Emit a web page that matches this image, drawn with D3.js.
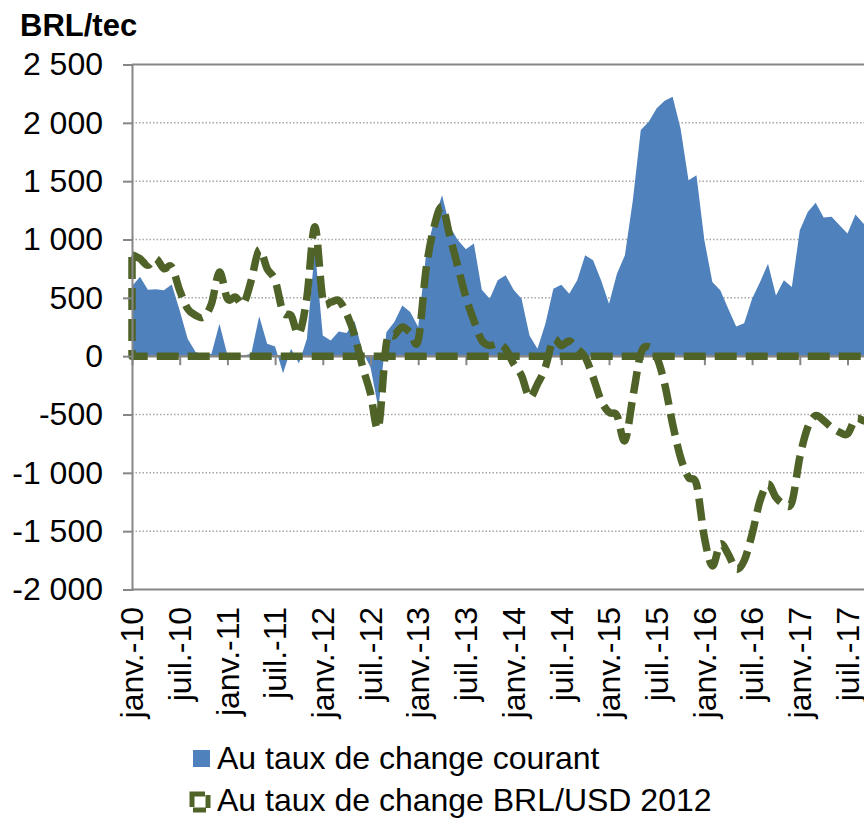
<!DOCTYPE html>
<html>
<head>
<meta charset="utf-8">
<script src="https://cdn.jsdelivr.net/npm/d3@7"></script>
<style>
  body { margin: 0; background: #fff; }
  text { font-family: "Liberation Sans", Arial, sans-serif; fill: #000; }
</style>
</head>
<body>
<div id="chart"></div>
<script>
// Chart size
const width = 864,
  height = 826,
  margin = { top: 64.5, bottom: 236, left: 132, right: 0 };

// Data: monthly values from janv.-10 (index 0) onward
const courant = [
  600, 680, 570, 573, 564, 615, 392, 150, 35, 10,
  20, 278, 10, 25, 5, 20, 343, 106, 83, -146,
  63, -63, 150, 920, 178, 135, 212, 198, 300, 40,
  -94, -450, 206, 292, 435, 378, 249, 879, 1165, 1380,
  1108, 993, 916, 965, 570, 492, 650, 693, 570, 492,
  178, 63, 278, 578, 613, 535, 650, 865, 822, 650,
  450, 707, 865, 1337, 1938, 2009, 2124, 2190, 2224, 1952,
  1508, 1551, 993, 635, 564, 407, 255, 283, 492, 635,
  793, 521, 650, 592, 1079, 1236, 1314, 1188, 1194, 1122,
  1051, 1214, 1137, 1100
];
const brlUsd2012 = [
  870, 836, 779, 836, 750, 765, 564, 407, 350, 335,
  450, 721, 492, 506, 450, 650, 913, 750, 650, 378,
  350, 192, 506, 1110, 492, 464, 478, 364, 178, -90,
  -320, -610, 110, 178, 249, 200, 135, 750, 1108, 1280,
  1022, 765, 506, 306, 135, 92, 106, 63, -65, -166,
  -352, -240, -94, 140, 90, 130, 63, -8, -180, -380,
  -481, -509, -724, -352, 21, 80, -8, -237, -580, -867,
  -1039, -1096, -1554, -1797, -1611, -1697, -1826, -1754, -1525, -1239,
  -1096, -1210, -1267, -1253, -867, -610, -509, -552, -610, -652,
  -667, -538, -552, -580
];
const xTickLabels = [
  "janv.-10", "juil.-10", "janv.-11", "juil.-11", "janv.-12", "juil.-12",
  "janv.-13", "juil.-13", "janv.-14", "juil.-14", "janv.-15", "juil.-15",
  "janv.-16", "juil.-16", "janv.-17", "juil.-17"
];
const yTicks = [-2000, -1500, -1000, -500, 0, 500, 1000, 1500, 2000, 2500];
const seriesNames = ["Au taux de change courant", "Au taux de change BRL/USD 2012"];
const unitLabel = "BRL/tec";

const blue = "#4F81BD",
  olive = "#4F6228",
  axisGrey = "#868686";

const fr = d3.formatLocale({ decimal: ",", thousands: " ", grouping: [3], currency: ["", ""], minus: "-" });
const fmt = fr.format(",d");

// Scales (one step per month)
const xScale = d3.scaleLinear()
  .domain([0, 90])
  .range([margin.left, 847.5]);

const yScale = d3.scaleLinear()
  .domain([-2000, 2500])
  .range([height - margin.bottom - 0.5, margin.top]);

const svg = d3.select("#chart")
  .append("svg")
  .attr("width", width)
  .attr("height", height);

// gridlines
svg.append("g")
  .selectAll("line")
  .data(yTicks.filter(d => d !== 0))
  .join("line")
  .attr("x1", margin.left)
  .attr("x2", width)
  .attr("y1", d => yScale(d))
  .attr("y2", d => yScale(d))
  .attr("stroke", d => (d === 2500 || d === -2000) ? axisGrey : "#A6A6A6")
  .attr("stroke-width", d => (d === 2500 || d === -2000) ? 2 : 1.5)
  .attr("stroke-dasharray", d => (d === 2500 || d === -2000) ? null : "1.5 2");

// blue area
const areaCourant = d3.area()
  .x((d, i) => xScale(i))
  .y0(yScale(0))
  .y1(d => yScale(d));

svg.append("path")
  .datum(courant)
  .attr("fill", blue)
  .attr("d", areaCourant);

// x axis at zero
const xAxis = d3.axisBottom(xScale)
  .tickValues(xTickLabels.map((d, i) => i * 6))
  .tickSize(9)
  .tickFormat("");

const xAxisGroup = svg.append("g")
  .attr("transform", `translate(0, ${yScale(0)})`)
  .call(xAxis);
xAxisGroup.select(".domain").remove();
xAxisGroup.selectAll("line").attr("stroke", axisGrey).attr("stroke-width", 2);
xAxisGroup.append("line")
  .attr("x1", margin.left).attr("x2", width)
  .attr("stroke", axisGrey).attr("stroke-width", 2.5);

// dashed area outline (no fill)
const area2012 = d3.area()
  .x((d, i) => xScale(i))
  .y0(yScale(0))
  .y1(d => yScale(d))
  .curve(d3.curveCardinal.tension(0));

svg.append("path")
  .datum(brlUsd2012)
  .attr("fill", "none")
  .attr("stroke", olive)
  .attr("stroke-width", 7.5)
  .attr("stroke-dasharray", "22 9")
  .attr("stroke-linejoin", "round")
  .attr("d", area2012);

// y axis
const yAxis = d3.axisLeft(yScale)
  .tickValues(yTicks)
  .tickSize(9)
  .tickPadding(20)
  .tickFormat(fmt);

const yAxisGroup = svg.append("g")
  .attr("transform", `translate(${margin.left}, 0)`)
  .call(yAxis);
yAxisGroup.select(".domain").attr("stroke", axisGrey).attr("stroke-width", 2);
yAxisGroup.selectAll("line").attr("stroke", axisGrey).attr("stroke-width", 2);
yAxisGroup.selectAll("text")
  .attr("font-size", 32)
  .attr("font-family", "Liberation Sans, Arial, sans-serif");

// x labels at the bottom, rotated
svg.append("g")
  .selectAll("text")
  .data(xTickLabels)
  .join("text")
  .attr("transform", (d, i) => `translate(${xScale(i * 6)}, 607) rotate(-90)`)
  .attr("dy", "0.35em")
  .attr("text-anchor", "end")
  .attr("font-size", 32)
  .text(d => d);

// unit label
svg.append("text")
  .attr("x", 20)
  .attr("y", 36)
  .attr("font-size", 31)
  .attr("font-weight", "bold")
  .text(unitLabel);

// legend
const legend = svg.append("g");
legend.append("rect")
  .attr("x", 193).attr("y", 750)
  .attr("width", 17).attr("height", 17)
  .attr("fill", blue);
legend.append("rect")
  .attr("x", 192).attr("y", 794)
  .attr("width", 16).attr("height", 16)
  .attr("fill", "none")
  .attr("stroke", olive)
  .attr("stroke-width", 5)
  .attr("stroke-dasharray", "13 4");
legend.selectAll("text.leg")
  .data(seriesNames)
  .join("text")
  .attr("class", "leg")
  .attr("x", 217)
  .attr("y", (d, i) => 769 + i * 42)
  .attr("font-size", 32)
  .text(d => d);
</script>
</body>
</html>
